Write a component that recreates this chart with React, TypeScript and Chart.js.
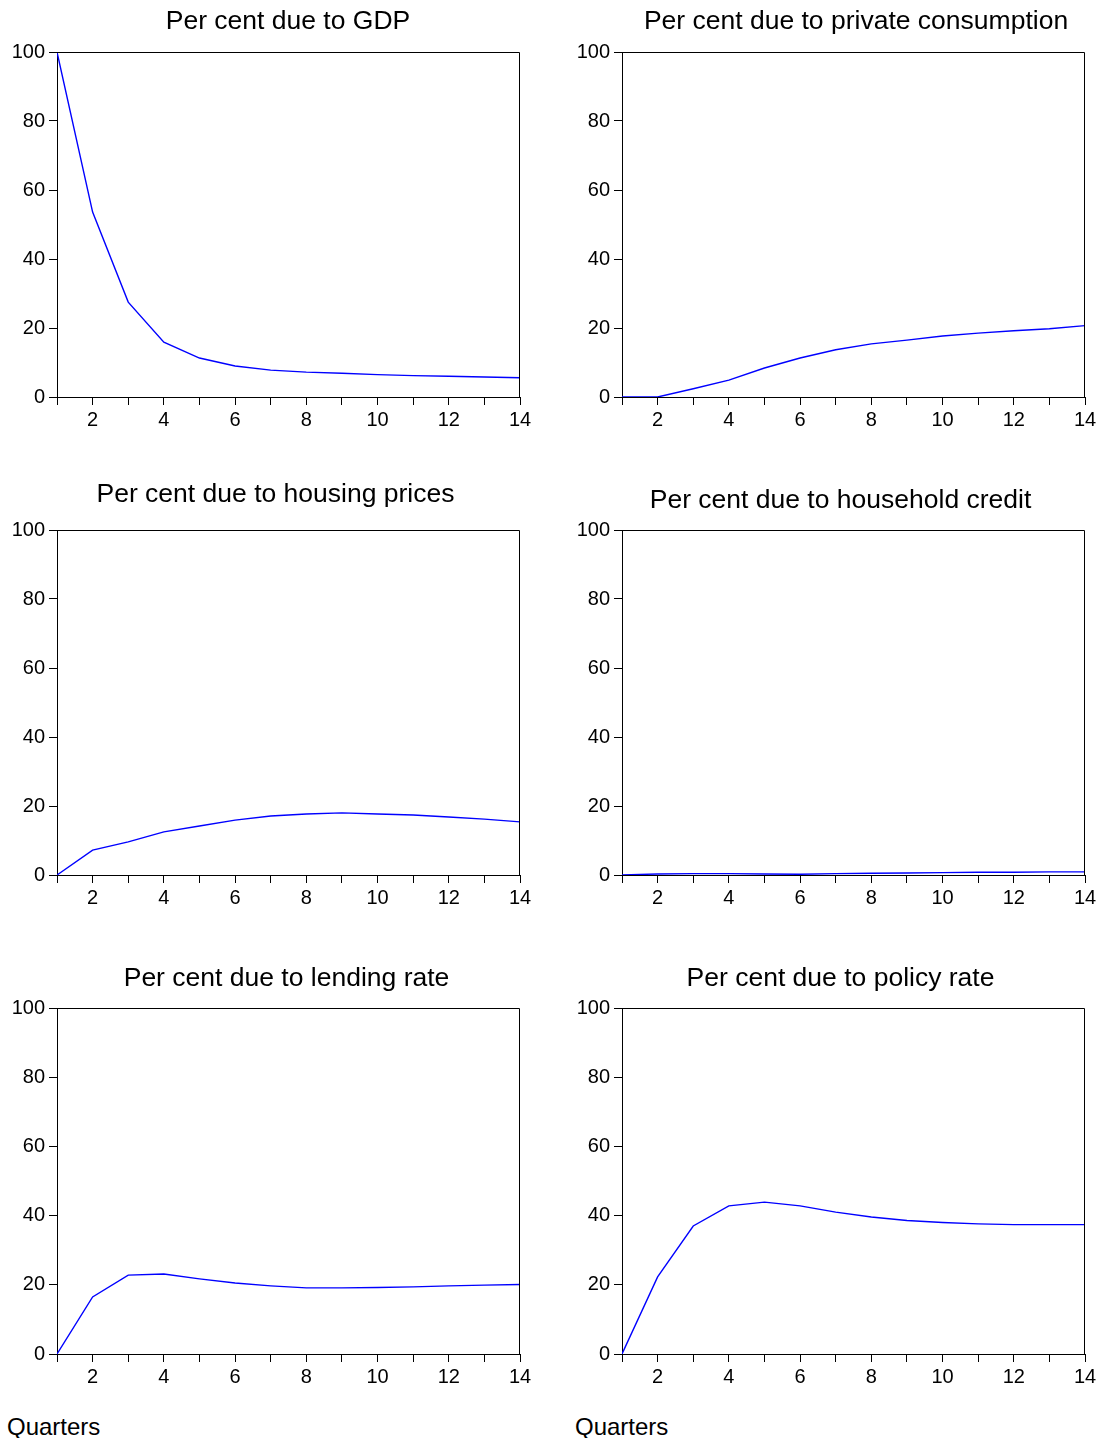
import React, { useEffect, useRef } from "react";
import { Chart, registerables } from "chart.js";

Chart.register(...registerables);

// ---------- data ----------
const quarters = [1, 2, 3, 4, 5, 6, 7, 8, 9, 10, 11, 12, 13, 14];
const xTickLabels = ["", "2", "", "4", "", "6", "", "8", "", "10", "", "12", "", "14"];
const yTickValues = [0, 20, 40, 60, 80, 100];

const gdpShare = [100, 53.6, 27.5, 15.9, 11.3, 9.0, 7.8, 7.2, 6.9, 6.5, 6.2, 6.0, 5.8, 5.6];
const consumptionShare = [0, 0, 2.4, 4.9, 8.4, 11.3, 13.7, 15.4, 16.5, 17.7, 18.5, 19.2, 19.8, 20.7];
const housingShare = [0, 7.2, 9.6, 12.5, 14.2, 15.9, 17.1, 17.7, 18.0, 17.7, 17.4, 16.8, 16.2, 15.4];
const creditShare = [0, 0.3, 0.4, 0.4, 0.3, 0.2, 0.4, 0.5, 0.6, 0.7, 0.8, 0.8, 0.9, 0.9];
const lendingShare = [0, 16.5, 22.8, 23.1, 21.7, 20.5, 19.7, 19.1, 19.1, 19.2, 19.4, 19.7, 19.9, 20.1];
const policyShare = [0, 22.3, 37.0, 42.8, 43.9, 42.8, 41.0, 39.6, 38.6, 38.0, 37.6, 37.4, 37.4, 37.4];

const panelTitles = [
  "Per cent due to GDP",
  "Per cent due to private consumption",
  "Per cent due to housing prices",
  "Per cent due to household credit",
  "Per cent due to lending rate",
  "Per cent due to policy rate",
];
const xAxisTitle = "Quarters";

// ---------- layout (positions only) ----------
const FONT = '"Liberation Sans", Arial, Helvetica, sans-serif';
const CANVAS_H = 440;
const colSpec = [
  { left: 0, width: 560, plotLeft: 57, plotRight: 520 },
  { left: 565, width: 560, plotLeft: 622, plotRight: 1085 },
];
const rowSpec = [
  { plotTop: 52, plotBottom: 397 },
  { plotTop: 530, plotBottom: 875 },
  { plotTop: 1008, plotBottom: 1354 },
];
const titlePos = [
  { x: 288, y: 21.5 },
  { x: 856, y: 21.5 },
  { x: 275.5, y: 494.5 },
  { x: 840.5, y: 500.5 },
  { x: 286.5, y: 978.5 },
  { x: 840.5, y: 978.5 },
];

const framePlugin = {
  id: "frameBox",
  afterDatasetsDraw(chart: any) {
    const { ctx, chartArea } = chart;
    const t = Math.round(chartArea.top) + 0.5;
    const r = Math.round(chartArea.right) - 0.5;
    const b = Math.round(chartArea.bottom);
    const l = Math.round(chartArea.left);
    ctx.save();
    ctx.strokeStyle = "#000";
    ctx.lineWidth = 1;
    ctx.beginPath();
    ctx.moveTo(l, t);
    ctx.lineTo(r, t);
    ctx.lineTo(r, b);
    ctx.stroke();
    ctx.restore();
  },
};

const panelTitlePlugin = {
  id: "panelTitle",
  afterDraw(chart: any, _args: any, opts: any) {
    if (!opts || !opts.text) return;
    const { ctx } = chart;
    ctx.save();
    ctx.fillStyle = "#000";
    ctx.font = `26.5px ${FONT}`;
    ctx.textAlign = "center";
    ctx.textBaseline = "middle";
    ctx.fillText(opts.text, opts.x, opts.y);
    ctx.restore();
  },
};

function Panel({ index, values }: { index: number; values: number[] }) {
  const ref = useRef<HTMLCanvasElement | null>(null);
  const col = colSpec[index % 2];
  const row = rowSpec[Math.floor(index / 2)];
  const canvasTop = row.plotTop - 52;

  useEffect(() => {
    if (!ref.current) return;
    const yWidth = col.plotLeft - col.left;
    const padRight = col.left + col.width - col.plotRight;
    const xHeight = canvasTop + CANVAS_H - row.plotBottom;
    const chart = new Chart(ref.current, {
      type: "line",
      data: {
        datasets: [
          {
            data: quarters.map((q, i) => ({ x: q, y: values[i] })),
            borderColor: "#0000ff",
            borderWidth: 1.4,
            pointRadius: 0,
            fill: false,
            tension: 0,
          },
        ],
      },
      plugins: [framePlugin, panelTitlePlugin],
      options: {
        animation: false,
        responsive: false,
        events: [],
        layout: { padding: { left: 0, right: padRight, top: row.plotTop - canvasTop, bottom: 0 } },
        plugins: {
          legend: { display: false },
          tooltip: { enabled: false },
          title: { display: false },
          panelTitle: {
            text: panelTitles[index],
            x: titlePos[index].x - col.left,
            y: titlePos[index].y - canvasTop,
          },
        } as any,
        scales: {
          x: {
            type: "linear",
            min: 1,
            max: 14,
            afterBuildTicks: (s: any) => {
              s.ticks = quarters.map((v) => ({ value: v }));
            },
            afterFit: (s: any) => {
              s.height = xHeight;
            },
            ticks: {
              autoSkip: false,
              maxRotation: 0,
              padding: 3,
              color: "#000",
              font: { family: FONT, size: 20 },
              callback: (v: any) => xTickLabels[quarters.indexOf(Number(v))] ?? "",
            },
            grid: { drawOnChartArea: false, tickLength: 8, color: "#000" },
            border: { display: true, color: "#000", width: 1 },
          },
          y: {
            type: "linear",
            min: 0,
            max: 100,
            afterBuildTicks: (s: any) => {
              s.ticks = yTickValues.map((v) => ({ value: v }));
            },
            afterFit: (s: any) => {
              s.width = yWidth;
            },
            ticks: {
              padding: 4,
              color: "#000",
              font: { family: FONT, size: 20 },
            },
            grid: { drawOnChartArea: false, tickLength: 8, color: "#000" },
            border: { display: true, color: "#000", width: 1 },
          },
        },
      } as any,
    });
    return () => chart.destroy();
  }, []);

  return (
    <canvas
      ref={ref}
      width={col.width}
      height={CANVAS_H}
      style={{ position: "absolute", left: col.left, top: canvasTop, width: col.width, height: CANVAS_H }}
    />
  );
}

export default function App() {
  const series = [gdpShare, consumptionShare, housingShare, creditShare, lendingShare, policyShare];
  return (
    <div
      style={{
        position: "absolute",
        left: 0,
        top: 0,
        width: 1099,
        height: 1438,
        overflow: "hidden",
        background: "#fff",
      }}
    >
      {series.map((vals, i) => (
        <Panel key={i} index={i} values={vals} />
      ))}
      {[7, 575].map((x, i) => (
        <div
          key={i}
          style={{
            position: "absolute",
            left: x,
            top: 1415,
            fontFamily: FONT,
            fontSize: 24,
            lineHeight: "24px",
            color: "#000",
            whiteSpace: "nowrap",
          }}
        >
          {xAxisTitle}
        </div>
      ))}
    </div>
  );
}
